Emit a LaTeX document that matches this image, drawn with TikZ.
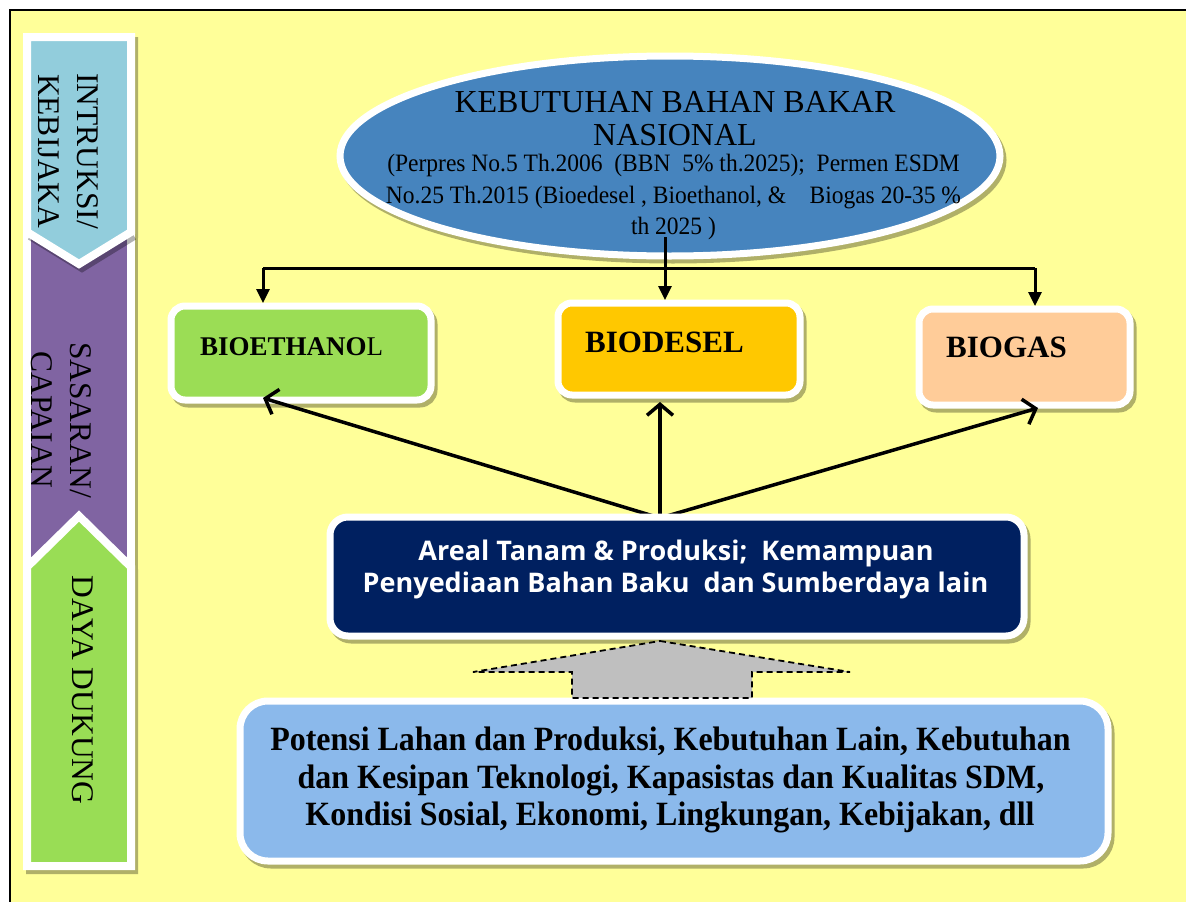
\documentclass[tikz,border=0pt]{standalone}
\usepackage{fontspec}
\setmainfont{Liberation Serif}
\newfontfamily\condserif{Liberation Serif}[FakeStretch=0.94]
\newfontfamily\cardsans{Open Sans}
\usetikzlibrary{shapes.geometric, arrows.meta, calc}

\definecolor{paper}{RGB}{255,255,153}
\definecolor{shadowc}{RGB}{176,176,104}
\definecolor{chevblue}{RGB}{146,205,220}
\definecolor{chevpurple}{RGB}{128,100,162}
\definecolor{chevgreen}{RGB}{153,221,85}
\definecolor{ellblue}{RGB}{70,132,190}
\definecolor{ethgreen}{RGB}{155,221,85}
\definecolor{dieselgold}{RGB}{255,200,0}
\definecolor{gaspeach}{RGB}{255,204,153}
\definecolor{supplynavy}{RGB}{0,32,96}
\definecolor{basinblue}{RGB}{139,185,235}
\definecolor{blockgray}{RGB}{191,191,191}

\tikzset{
  card/.style={draw=white, line width=7pt, inner sep=0pt, outer sep=0pt,
    preaction={draw=shadowc, fill=shadowc, line width=7pt,
      transform canvas={shift={(3pt,-4pt)}}}},
  bus/.style={line width=3pt, black},
  feed/.style={line width=3pt, shorten >=3pt, -{Triangle[length=14pt,width=13pt]}},
  rise/.style={line width=3.5pt, -{Straight Barb[length=11pt,width=26pt]}},
  band/.style={draw=white, line width=8pt, line join=miter},
  bandshadow/.style={fill=shadowc, draw=shadowc, line width=8pt},
  bandtext/.style={rotate=-90, align=center, inner sep=0pt,
    font=\fontsize{31.5}{39}\selectfont},
  titletext/.style={anchor=base, inner sep=0pt, font=\fontsize{32}{32}\selectfont},
  ruletext/.style={anchor=base, inner sep=0pt, font=\condserif\fontsize{25}{25}\selectfont},
  fueltext/.style={anchor=base west, inner sep=0pt, font=\bfseries\fontsize{31}{31}\selectfont},
  supplytext/.style={anchor=base, inner sep=0pt, text=white,
    font=\cardsans\bfseries\fontsize{27}{27}\selectfont},
  basetext/.style={anchor=base, inner sep=0pt,
    font=\condserif\bfseries\fontsize{34}{34}\selectfont},
}

\begin{document}
\begin{tikzpicture}[x=1pt, y=-1pt]
\useasboundingbox (0,0) rectangle (1186,902);
\fill[white] (0,0) rectangle (1186,902);
\fill[paper] (10,10) rectangle (1186,902);
\draw[line width=2.5pt] (10,902) -- (10,10) -- (1186,10);

% side band: shadows first
\begin{scope}[shift={(3,4)}]
  \path[bandshadow] (27,230) rectangle (131,565);
  \path[bandshadow] (27,37) -- (131,37) -- (131,232) -- (79,264) -- (27,232) -- cycle;
  \path[bandshadow] (27,567) -- (79,516) -- (131,567) -- (131,866) -- (27,866) -- cycle;
\end{scope}
% purple middle part
\path[band, fill=chevpurple] (27,230) rectangle (131,565);
% shadow of the upper chevron on the purple part
\draw[black, opacity=0.3, line width=8pt] (30,236) -- (82,268) -- (134,236);
% upper chevron and lower pointed part
\path[band, fill=chevblue] (27,37) -- (131,37) -- (131,232) -- (79,264) -- (27,232) -- cycle;
\path[band, fill=chevgreen] (27,567) -- (79,516) -- (131,567) -- (131,866) -- (27,866) -- cycle;

\node[bandtext] (policy) at (68,151) {INTRUKSI/\\KEBIJAKA};
\node[bandtext] (target) at (61.5,420) {SASARAN/\\CAPAIAN};
\node[bandtext] (support) at (83,690) {DAYA DUKUNG};

% national demand
\node[ellipse, card, fill=ellblue, minimum width=660pt, minimum height=200pt] (demand) at (670,156) {};
\node[titletext] (demand1) at (675,112) {KEBUTUHAN BAHAN BAKAR};
\node[titletext] (demand2) at (675,145) {NASIONAL};
\node[ruletext] (rule1) at (673.5,171) {(Perpres No.5 Th.2006~ (BBN~ 5\% th.2025);~ Permen ESDM};
\node[ruletext] (rule2) at (673.5,203) {No.25 Th.2015 (Bioedesel , Bioethanol, \&~~~ Biogas 20-35 \%};
\node[ruletext] (rule3) at (673.5,234) {th 2025 )};

% fuel boxes
\node[card, rounded corners=14pt, fill=ethgreen, minimum width=260pt, minimum height=94pt] (bioeth) at (301,353) {};
\node[fueltext, font=\fontsize{27}{27}\selectfont] (bioethlabel) at (200,355) {\textbf{BIOETHANO}L};
\node[card, rounded corners=14pt, fill=dieselgold, minimum width=242pt, minimum height=92pt] (biodiesel) at (679,349) {};
\node[fueltext] (biodiesellabel) at (585,352) {BIODESEL};
\node[card, rounded corners=14pt, fill=gaspeach, minimum width=211pt, minimum height=96pt] (biogas) at (1024.5,357) {};
\node[fueltext] (biogaslabel) at (946,357) {BIOGAS};

% demand distributed to the three fuels
\coordinate (busL) at (263,268);
\coordinate (busR) at (1035,268);
\coordinate (stem) at (665,237);
\draw[bus] (busL) -- (busR);
\draw[feed] (busL) -- (busL |- bioeth.north);
\draw[feed] (stem) -- (stem |- biodiesel.north);
\draw[feed] (busR) -- (busR |- biogas.north);

% supply capacity feeding the fuels
\coordinate (fan) at (660,518);
\draw[rise] (fan) -- ($(bioeth.south)+(-38,-2)$);
\draw[rise] (fan) -- ($(biodiesel.south)+(-19,7)$);
\draw[rise] (fan) -- ($(biogas.south)+(13.5,3)$);

\node[card, rounded corners=18pt, fill=supplynavy, minimum width=694pt, minimum height=119pt] (supply) at (677,576.5) {};
\node[supplytext] (supply1) at (676,560) {Areal Tanam \& Produksi;~ Kemampuan};
\node[supplytext] (supply2) at (675.5,592) {Penyediaan Bahan Baku~ dan Sumberdaya lain};

% carrying capacity
\node[card, rounded corners=28pt, fill=basinblue, minimum width=868pt, minimum height=160pt] (potential) at (674,781) {};
\node[basetext] (potential1) at (670.5,750) {Potensi Lahan dan Produksi, Kebutuhan Lain, Kebutuhan};
\node[basetext] (potential2) at (671,788) {dan Kesipan Teknologi, Kapasistas dan Kualitas SDM,};
\node[basetext] (potential3) at (670,825) {Kondisi Sosial, Ekonomi, Lingkungan, Kebijakan, dll};

% dashed block arrow from the base up to the supply box
\coordinate (liftTip) at (660,641);
\draw[fill=blockgray, line width=1.8pt, dash pattern=on 6pt off 4pt]
  (liftTip) -- (850,672) -- (752,672) -- (752,698) -- (572,698) -- (572,672) -- (473,672) -- cycle;
\end{tikzpicture}
\end{document}
